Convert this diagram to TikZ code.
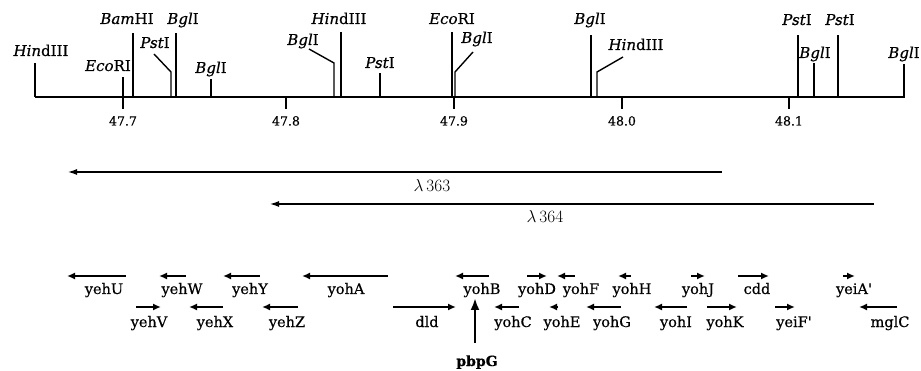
\documentclass[tikz,border=0pt]{standalone}
\usepackage{fontspec}
\setmainfont{DejaVu Serif}[FakeBold=0.5, Ligatures=TeXOff]
\usetikzlibrary{arrows.meta}
\begin{document}
\begin{tikzpicture}[x=1pt,y=-1pt,
  axis/.style={line width=1.9pt},
  site/.style={line width=1.4pt},
  enz/.style={font=\fontsize{15}{17}\selectfont, inner sep=0pt, anchor=base},
  tickl/.style={font=\fontsize{12.5}{14}\selectfont, inner sep=0pt, anchor=base},
  clone/.style={line width=1.2pt, -{Latex[length=9pt,width=6pt]}},
  clonel/.style={font=\fontsize{16}{18}\selectfont, inner sep=0pt, anchor=base},
  gene/.style={line width=1.8pt, -{Latex[length=8pt,width=7pt]}},
  genel/.style={font=\fontsize{14.5}{16}\selectfont, inner sep=0pt, anchor=base},
  pbp/.style={line width=2.6pt, -{Latex[length=12pt,width=9pt]}},
]
\useasboundingbox (0,0) rectangle (921,371);

% ---- restriction map axis ----
\coordinate (axL) at (35,97);
\coordinate (axR) at (905,97);
\draw[axis] (axL) -- (axR);

% scale ticks (kb)
\foreach \x/\l/\n in {123/47.7/a, 286/47.8/b, 454/47.9/c, 622/48.0/d, 789/48.1/e}{
  \coordinate (tick\n) at (\x,97);
  \coordinate (tick\n-end) at (\x,109);
  \draw[site] (tick\n) -- (tick\n-end);
  \node[tickl] (tickl\n) at (\x,125.5) {\l};
}

% straight cut sites: name / x / top / label x / label baseline / label
\foreach \n/\x/\t/\lx/\ly/\txt in {
  s1/35/63/41/56/{\textit{Hin}dIII},
  s2/123/77/108/71/{\textit{Eco}RI},
  s3/133/33/127/24/{\textit{Bam}HI},
  s5/176/33/183/24/{\textit{Bgl}I},
  s6/211/79/211/73/{\textit{Bgl}I},
  s8/341/32/339/24/{\textit{Hin}dIII},
  s9/380/73/380/68/{\textit{Pst}I},
  s10/452/32/452/24/{\textit{Eco}RI},
  s12/591/35/590/24/{\textit{Bgl}I},
  s14/798/35/797/25/{\textit{Pst}I},
  s15/814/63/815/58/{\textit{Bgl}I},
  s16/838/35/840/25/{\textit{Pst}I},
  s17/904/64/904/58/{\textit{Bgl}I}}{
  \coordinate (\n) at (\x,97);
  \coordinate (\n-top) at (\x,\t);
  \draw[site] (\n) -- (\n-top);
  \node[enz] (\n-lab) at (\lx,\ly) {\txt};
}

% cut sites with a bent leader: name / x / kink / end x / end y / label x / baseline / label
\foreach \n/\x/\k/\ex/\ey/\lx/\ly/\txt in {
  s4/171/72/154/54/155/48/{\textit{Pst}I},
  s7/334/63/309/49/303/45/{\textit{Bgl}I},
  s11/455/72/473/52/477/43/{\textit{Bgl}I},
  s13/597/72/623/57/636/50/{\textit{Hin}dIII}}{
  \coordinate (\n) at (\x,97);
  \coordinate (\n-kink) at (\x,\k);
  \coordinate (\n-end) at (\ex,\ey);
  \draw[site] (\n) -- (\n-kink) -- (\n-end);
  \node[enz] (\n-lab) at (\lx,\ly) {\txt};
}

% ---- cloned lambda fragments ----
\coordinate (l363-a) at (722,172);
\coordinate (l363-b) at (68,172);
\draw[clone] (l363-a) -- (l363-b);
\node[clonel] (l363) at (432,192) {$\lambda\,363$};
\coordinate (l364-a) at (874,204);
\coordinate (l364-b) at (270,204);
\draw[clone] (l364-a) -- (l364-b);
\node[clonel] (l364) at (545,223) {$\lambda\,364$};

% ---- genes: name / from x / to x / arrow y / label x / label baseline / label ----
\foreach \n/\a/\b/\y/\lx/\ly/\txt in {
  yehU/126/67/276/104/294/yehU,
  yehW/186/159/276/182/294/yehW,
  yehY/260/223/276/250/294/yehY,
  yohA/388/302/276/346/294/yohA,
  yohB/489/455/276/482/294/yohB,
  yohD/527/547/276/537/294/yohD,
  yohF/575/557/276/581/294/yohF,
  yohH/631/618/276/632/294/yohH,
  yohJ/691/705/276/698/294/yohJ,
  cdd/738/769/276/757/294/cdd,
  yeiA/843/855/276/854/294/{yeiA'},
  yehV/136/161/307/149/327/yehV,
  yehX/223/189/307/215/327/yehX,
  yehZ/298/262/307/287/327/yehZ,
  dld/393/456/307/427/327/dld,
  yohC/519/494/307/513/327/yohC,
  yohE/558/549/307/562/327/yohE,
  yohG/621/586/307/612/327/yohG,
  yohI/687/654/307/676/327/yohI,
  yohK/707/737/307/725/327/yohK,
  yeiF/775/795/307/794/327/{yeiF'},
  mglC/897/859/307/890/327/mglC}{
  \coordinate (\n-a) at (\a,\y);
  \coordinate (\n-b) at (\b,\y);
  \draw[gene] (\n-a) -- (\n-b);
  \node[genel] (\n) at (\lx,\ly) {\txt};
}

% pbpG pointer
\node[genel, font=\fontsize{14}{16}\selectfont\bfseries] (pbpG) at (477,366) {pbpG};
\coordinate (pbpG-tip) at (475,298);
\coordinate (pbpG-tail) at (475,343);
\draw[pbp] (pbpG-tail) -- (pbpG-tip);
\end{tikzpicture}
\end{document}
